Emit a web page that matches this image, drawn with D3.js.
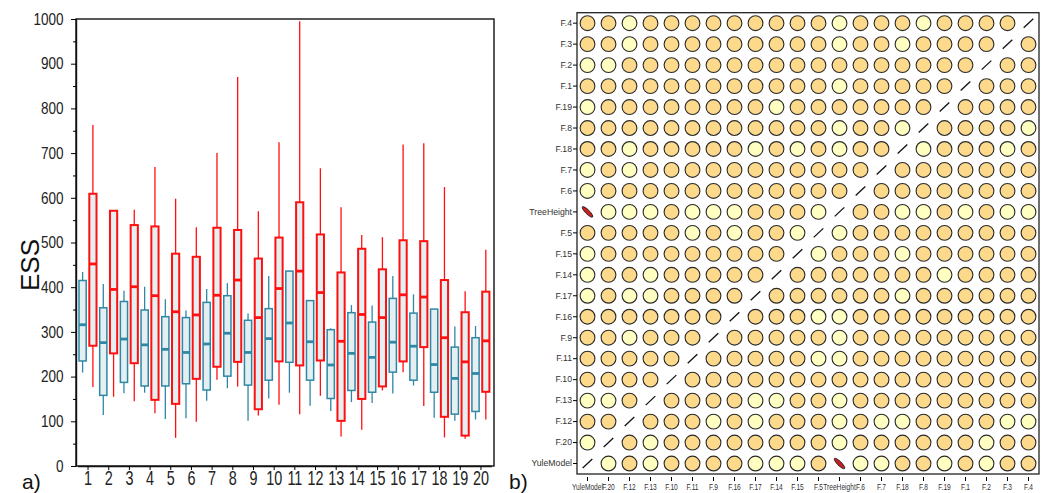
<!DOCTYPE html>
<html>
<head>
<meta charset="utf-8">
<script src="https://cdn.jsdelivr.net/npm/d3@7"></script>
<style>
  body { margin: 0; background: #fff; }
  svg { display: block; }
</style>
</head>
<body>
<svg id="chart" width="1052" height="493"></svg>
<script>
// ---- panel a) : ESS box plots, two runs per group ----
const groups = [1, 2, 3, 4, 5, 6, 7, 8, 9, 10, 11, 12, 13, 14, 15, 16, 17, 18, 19, 20]
const essTicks = [0, 100, 200, 300, 400, 500, 600, 700, 800, 900, 1000]

// blue series (left box of each pair)
const blueLow = [209, 114, 163, 164, 105, 107, 146, 174, 101, 151, 164, 135, 123, 143, 141, 162, 180, 108, 101, 104]
const blueQ1 = [235, 158, 187, 179, 179, 184, 170, 201, 181, 192, 232, 192, 151, 169, 165, 210, 192, 165, 116, 122]
const blueMed = [316, 276, 284, 271, 261, 254, 273, 297, 254, 285, 320, 278, 226, 252, 243, 277, 268, 227, 196, 207]
const blueQ3 = [415, 354, 368, 349, 334, 332, 366, 381, 326, 352, 436, 370, 305, 343, 322, 375, 342, 351, 266, 287]
const blueHigh = [434, 407, 392, 401, 373, 348, 396, 409, 341, 425, 436, 370, 308, 360, 359, 425, 384, 351, 312, 313]

// red series (right box of each pair)
const redLow = [177, 155, 145, 118, 63, 99, 193, 178, 113, 137, 116, 157, 66, 81, 169, 210, 134, 64, 61, 104]
const redQ1 = [269, 252, 230, 148, 139, 195, 222, 233, 127, 234, 225, 236, 101, 150, 178, 234, 266, 110, 68, 166]
const redMed = [452, 395, 401, 381, 345, 338, 382, 416, 332, 397, 436, 388, 279, 339, 332, 383, 378, 287, 233, 280]
const redQ3 = [609, 571, 539, 536, 475, 468, 533, 528, 464, 511, 590, 518, 433, 486, 440, 505, 503, 416, 344, 390]
const redHigh = [763, 572, 573, 669, 598, 534, 700, 870, 570, 724, 995, 666, 579, 517, 512, 719, 722, 624, 391, 484]

// ---- panel b) : correlation matrix ----
// order of variables, bottom-to-top on y and left-to-right on x
const vars = ['YuleModel', 'F.20', 'F.12', 'F.13', 'F.10', 'F.11', 'F.9', 'F.16', 'F.17', 'F.14',
  'F.15', 'F.5', 'TreeHeight', 'F.6', 'F.7', 'F.18', 'F.8', 'F.19', 'F.1', 'F.2', 'F.3', 'F.4']
// one string per variable (same order), one char per column:
// D = darker circle, L = light circle, / = diagonal, E = strong negative ellipse
const cellCodes = [
  '/LDLDDDDLLLDELLDDLDLDD',
  'L/DLDDDDDDDDLDDDDDDLDD',
  'DD/DDDLDLDDDLDLLDDDDLL',
  'LLD/DDDDLLDDLDDDDDDDDD',
  'DDDD/DDDDDDDDDDDDDDDDD',
  'DDDDD/DDDDDLLDDDDDDDDD',
  'DDLDDD/DDDDDLDDDDDDDDD',
  'DDDDDDD/DDDLLDDDDDDDDD',
  'LDLLDDDD/DDDDDDLDDDDDD',
  'LDDLDDDDD/DDDDDDDLDDDD',
  'LDDDDDDDDD/LDDDLDDDDDD',
  'DDDDDLDLDDL/LDDDDDDDDD',
  'ELLLDLLLDDDL/DDLLDLDLL',
  'LDDDDDDDDDDDD/DDDDDDDD',
  'LDLDDDDDDDDDDD/DDDDDDD',
  'DDLDDDDDLDLDLDD/LDDDLD',
  'DDDDDDDDDDDDLDDL/DDDDL',
  'LDDDDDDDDLDDDDDDD/DDDD',
  'DDDDDDDDDDDDLDDDDD/DDD',
  'LLDDDDDDDDDDDDDDDDD/DD',
  'DDLDDDDDDDDDLDDLDDDD/D',
  'DDLDDDDDDDDDLDDDLDDDD/',
]

const font = 'Liberation Sans, Arial, sans-serif'
const svg = d3.select('#chart')

// ================= panel a =================
const aLeft = 76
const aRight = 494
const aTop = 19
const aBottom = 466

const y = d3.scaleLinear().domain([0, 1000]).range([aBottom, aTop])
const x = d3.scaleBand().domain(groups).range([77.7, 491.3])
const sub = d3.scaleBand().domain(['blue', 'red']).range([1.3, 18.8]).paddingInner(0.3)

const series = [
  { key: 'blue', color: '#2f87a6', width: 1.5, low: blueLow, q1: blueQ1, med: blueMed, q3: blueQ3, high: blueHigh },
  { key: 'red', color: '#ff1010', width: 2, low: redLow, q1: redQ1, med: redMed, q3: redQ3, high: redHigh },
]

const a = svg.append('g')

series.forEach((s) => {
  const rows = groups.map((g, i) => ({
    g: g, low: s.low[i], q1: s.q1[i], med: s.med[i], q3: s.q3[i], high: s.high[i],
  }))
  const gs = a.append('g').selectAll('g')
    .data(rows)
    .enter()
    .append('g')
    .attr('transform', (d) => 'translate(' + (x(d.g) + sub(s.key)) + ',0)')
  const bw = sub.bandwidth()

  gs.append('line')
    .attr('x1', bw / 2).attr('x2', bw / 2)
    .attr('y1', (d) => y(d.low)).attr('y2', (d) => y(d.high))
    .attr('stroke', s.color)
    .attr('stroke-width', 1.3)

  gs.append('rect')
    .attr('x', 0)
    .attr('width', bw)
    .attr('y', (d) => y(d.q3))
    .attr('height', (d) => y(d.q1) - y(d.q3))
    .attr('fill', '#e3eff0')
    .attr('stroke', s.color)
    .attr('stroke-width', s.width)

  gs.append('line')
    .attr('x1', 0).attr('x2', bw)
    .attr('y1', (d) => y(d.med)).attr('y2', (d) => y(d.med))
    .attr('stroke', s.color)
    .attr('stroke-width', 2.8)
})

// frame
a.append('rect')
  .attr('x', aLeft).attr('y', aTop)
  .attr('width', aRight - aLeft).attr('height', aBottom - aTop)
  .attr('fill', 'none')
  .attr('stroke', '#111')
  .attr('stroke-width', 1.4)

// y axis, major + minor ticks; labels squeezed to a narrow look
const ySquash = 0.82
const yAxis = a.append('g')
  .attr('transform', 'translate(' + aLeft + ',0)')
  .call(d3.axisLeft(y).tickValues(essTicks).tickFormat(d3.format('d'))
    .tickSize(5).tickPadding(10.3).tickSizeOuter(0))
yAxis.select('.domain').attr('stroke', '#111').attr('stroke-width', 1.4)
yAxis.selectAll('text')
  .attr('font-family', font)
  .attr('font-size', '16.5px')
  .attr('fill', '#222')
  .attr('transform', 'scale(' + ySquash + ',1)')

a.append('g')
  .attr('transform', 'translate(' + aLeft + ',0)')
  .call(d3.axisLeft(y).tickValues(d3.range(50, 1000, 100)).tickSize(3).tickFormat(''))
  .call((g) => g.select('.domain').remove())

const xAxis = a.append('g')
  .attr('transform', 'translate(0,' + aBottom + ')')
  .call(d3.axisBottom(x).tickSize(4).tickPadding(1).tickSizeOuter(0))
xAxis.select('.domain').attr('stroke', '#111').attr('stroke-width', 1.4)
xAxis.selectAll('text')
  .attr('font-family', font)
  .attr('font-size', '20px')
  .attr('fill', '#222')
  .attr('transform', 'scale(0.72,1)')

a.append('text')
  .attr('transform', 'translate(39,265) rotate(-90)')
  .attr('text-anchor', 'middle')
  .attr('font-family', font)
  .attr('font-size', '26px')
  .attr('fill', '#111')
  .text('ESS')

a.append('text')
  .attr('x', 22).attr('y', 489)
  .attr('font-family', font)
  .attr('font-size', '21px')
  .attr('fill', '#111')
  .text('a)')

// ================= panel b =================
const bLeft = 577
const bRight = 1039
const bTop = 12.7
const bBottom = 474

const xm = d3.scaleBand().domain(vars).range([bLeft, bRight])
const ym = d3.scaleBand().domain(vars).range([bBottom, bTop])

const cells = []
vars.forEach((rv, i) => {
  vars.forEach((cv, j) => {
    cells.push({ row: rv, col: cv, code: cellCodes[i][j] })
  })
})

const fillFor = { D: '#fdd98b', L: '#ffffc2' }

const b = svg.append('g')
const cg = b.selectAll('g.cell')
  .data(cells)
  .enter()
  .append('g')
  .attr('class', 'cell')
  .attr('transform', (d) => 'translate(' + (xm(d.col) + xm.bandwidth() / 2) + ',' + (ym(d.row) + ym.bandwidth() / 2) + ')')

cg.filter((d) => d.code === 'D' || d.code === 'L')
  .append('circle')
  .attr('r', 7.4)
  .attr('fill', (d) => fillFor[d.code])
  .attr('stroke', '#2a2a2a')
  .attr('stroke-width', 1.1)

cg.filter((d) => d.code === '/')
  .append('line')
  .attr('x1', -4.8).attr('y1', 4.5)
  .attr('x2', 4.8).attr('y2', -4.5)
  .attr('stroke', '#111')
  .attr('stroke-width', 1.3)

cg.filter((d) => d.code === 'E')
  .append('ellipse')
  .attr('rx', 7.2)
  .attr('ry', 2)
  .attr('transform', 'rotate(45)')
  .attr('fill', '#c81e1e')
  .attr('stroke', '#222')
  .attr('stroke-width', 0.9)

b.append('rect')
  .attr('x', bLeft).attr('y', bTop)
  .attr('width', bRight - bLeft).attr('height', bBottom - bTop)
  .attr('fill', 'none')
  .attr('stroke', '#222')
  .attr('stroke-width', 1.3)

const ymAxis = b.append('g')
  .attr('transform', 'translate(' + bLeft + ',0)')
  .call(d3.axisLeft(ym).tickSize(4).tickPadding(1).tickSizeOuter(0))
ymAxis.select('.domain').remove()
ymAxis.selectAll('text')
  .attr('font-family', font)
  .attr('font-size', '8.7px')
  .attr('fill', '#333')

const xmAxis = b.append('g')
  .attr('transform', 'translate(0,' + (bBottom + 3) + ')')
  .call(d3.axisBottom(xm).tickSize(4).tickPadding(2).tickSizeOuter(0))
xmAxis.select('.domain').remove()
xmAxis.selectAll('text')
  .attr('font-family', font)
  .attr('font-size', '9.2px')
  .attr('fill', '#333')
  .attr('transform', 'scale(0.72,1)')

b.append('text')
  .attr('x', 509).attr('y', 489)
  .attr('font-family', font)
  .attr('font-size', '21px')
  .attr('fill', '#111')
  .text('b)')
</script>
</body>
</html>
